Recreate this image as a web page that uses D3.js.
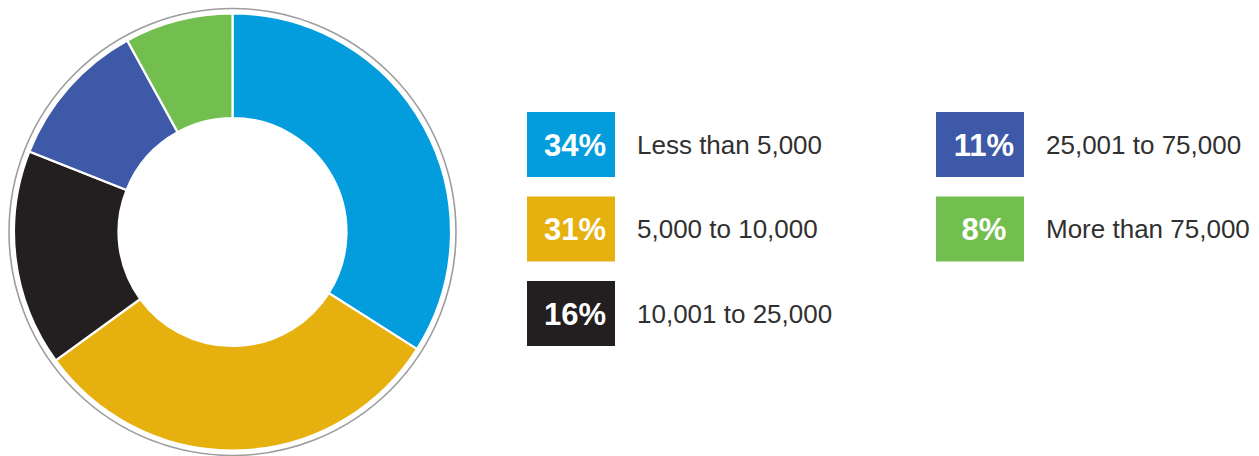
<!DOCTYPE html>
<html>
<head>
<meta charset="utf-8">
<script src="https://cdn.jsdelivr.net/npm/d3@7"></script>
<style>
	body { margin: 0; background: #fff; }
	.label { font-family: "Liberation Sans", Arial, sans-serif; fill: #303030; }
	.pct { font-family: "Liberation Sans", Arial, sans-serif; font-weight: bold; fill: #fff; }
</style>
</head>
<body>
<script>
const categories = [
	"Less than 5,000",
	"5,000 to 10,000",
	"10,001 to 25,000",
	"25,001 to 75,000",
	"More than 75,000"
];
const shares = [34, 31, 16, 11, 8];
const palette = ["#039dde", "#e6b00e", "#231f20", "#3d59a8", "#72bf4f"];

const config = {
	width: 1259,
	height: 456,
	cx: 232.5,
	cy: 232,
	outerRadius: 218.5,
	innerRadius: 114,
	ringRadius: 223.5,
	boxWidth: 88,
	boxHeight: 65,
	columns: [527, 936],
	rowTop: 112,
	rowStep: 84.5,
	labelGap: 22
};

const svg = d3
	.select("body")
	.append("svg")
	.attr("width", config.width)
	.attr("height", config.height);

const color = d3.scaleOrdinal().domain(categories).range(palette);

// donut
const pie = d3.pie().sort(null).value(d => d.value);
const arc = d3.arc().innerRadius(config.innerRadius).outerRadius(config.outerRadius);
const data = categories.map((c, i) => ({ name: c, value: shares[i] }));

const donut = svg
	.append("g")
	.attr("transform", `translate(${config.cx}, ${config.cy})`);

donut
	.append("circle")
	.attr("r", config.ringRadius)
	.attr("fill", "none")
	.attr("stroke", "#9d9d9d")
	.attr("stroke-width", 1.6);

donut
	.selectAll("path")
	.data(pie(data))
	.join("path")
	.attr("d", arc)
	.attr("fill", d => color(d.data.name))
	.attr("stroke", "#fff")
	.attr("stroke-width", 2.2);

// legend, 3 rows per column
const rowsPerCol = 3;
const legend = svg
	.selectAll(".legend-item")
	.data(data)
	.join("g")
	.attr("class", "legend-item")
	.attr("transform", (d, i) => {
		const x = config.columns[Math.floor(i / rowsPerCol)];
		const y = config.rowTop + (i % rowsPerCol) * config.rowStep;
		return `translate(${x}, ${y})`;
	});

legend
	.append("rect")
	.attr("width", config.boxWidth)
	.attr("height", config.boxHeight)
	.attr("fill", d => color(d.name));

legend
	.append("text")
	.attr("class", "pct")
	.attr("x", config.boxWidth / 2 + 4)
	.attr("y", config.boxHeight / 2 + 11)
	.attr("text-anchor", "middle")
	.attr("font-size", 31)
	.text(d => `${d.value}%`);

legend
	.append("text")
	.attr("class", "label")
	.attr("x", config.boxWidth + config.labelGap)
	.attr("y", config.boxHeight / 2 + 9)
	.attr("font-size", 26)
	.text(d => d.name);
</script>
</body>
</html>
